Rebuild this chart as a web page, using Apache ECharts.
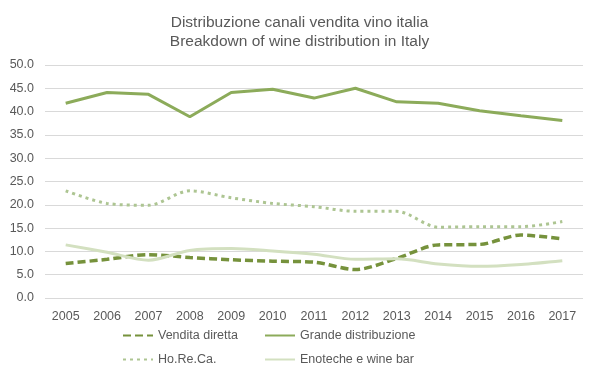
<!DOCTYPE html>
<html><head><meta charset="utf-8">
<script src="https://cdn.jsdelivr.net/npm/echarts@6/dist/echarts.min.js"></script>
<style>html,body{margin:0;padding:0;background:#fff}#c{width:599px;height:378px}</style>
</head><body><div id="c"></div>
<script>
var years = ['2005','2006','2007','2008','2009','2010','2011','2012','2013','2014','2015','2016','2017'];
var venditaDiretta = [7.4, 8.3, 9.3, 8.7, 8.2, 7.9, 7.7, 6.1, 8.5, 11.4, 11.5, 13.5, 12.7];
var grandeDistribuzione = [41.8, 44.1, 43.7, 38.9, 44.1, 44.8, 42.9, 45.0, 42.1, 41.8, 40.2, 39.1, 38.1];
var horeca = [23.0, 20.3, 19.9, 23.0, 21.5, 20.3, 19.6, 18.6, 18.6, 15.2, 15.3, 15.3, 16.4];
var enoteche = [11.4, 9.8, 8.1, 10.2, 10.6, 10.1, 9.4, 8.3, 8.4, 7.3, 6.8, 7.2, 8.0];

var font = 'Liberation Sans';
var chart = echarts.init(document.getElementById('c'), null, {renderer:'canvas'});
chart.setOption({
  animation: false,
  backgroundColor: '#fff',
  title: {
    text: 'Distribuzione canali vendita vino italia\nBreakdown of wine distribution in Italy',
    left: 'center', top: 8,
    textStyle: {fontFamily: font, fontSize: 15.5, fontWeight: 'normal', color: '#595959', lineHeight: 19}
  },
  legend: [{
    orient: 'vertical', left: 117, top: 324, itemGap: 11, itemWidth: 30, itemHeight: 8,
    data: ['Vendita diretta', 'Ho.Re.Ca.'],
    itemStyle: {opacity: 0},
    textStyle: {fontFamily: font, fontSize: 12.5, color: '#595959'}
  }, {
    orient: 'vertical', left: 259, top: 324, itemGap: 11, itemWidth: 30, itemHeight: 8,
    data: ['Grande distribuzione', 'Enoteche e wine bar'],
    itemStyle: {opacity: 0},
    textStyle: {fontFamily: font, fontSize: 12.5, color: '#595959'}
  }],
  grid: {left: 45, right: 16, top: 65, bottom: 80, containLabel: false},
  xAxis: {
    type: 'category', data: years, boundaryGap: true,
    axisLine: {show: false}, axisTick: {show: false},
    axisLabel: {fontFamily: font, fontSize: 12.5, color: '#595959', margin: 12}
  },
  yAxis: {
    type: 'value', min: 0, max: 50, interval: 5,
    axisLabel: {fontFamily: font, fontSize: 12.5, color: '#595959', margin: 11,
      formatter: function(v){return v.toFixed(1);}},
    splitLine: {lineStyle: {color: '#d9d9d9', width: 1}},
    axisLine: {show: false}, axisTick: {show: false}
  },
  series: [{
    name: 'Vendita diretta', type: 'line', data: venditaDiretta, symbol: 'none', smooth: 0.3,
    itemStyle: {color: '#76923c'},
    lineStyle: {color: '#76923c', width: 3.5, type: [8, 4]}
  }, {
    name: 'Grande distribuzione', type: 'line', data: grandeDistribuzione, symbol: 'none',
    itemStyle: {color: '#8cab5a'},
    lineStyle: {color: '#8cab5a', width: 3}
  }, {
    name: 'Ho.Re.Ca.', type: 'line', data: horeca, symbol: 'none', smooth: 0.3,
    itemStyle: {color: '#adc592'},
    lineStyle: {color: '#adc592', width: 3, type: [3, 4]}
  }, {
    name: 'Enoteche e wine bar', type: 'line', data: enoteche, symbol: 'none', smooth: 0.3,
    itemStyle: {color: '#d3e0c0'},
    lineStyle: {color: '#d3e0c0', width: 3}
  }]
});
</script></body></html>
